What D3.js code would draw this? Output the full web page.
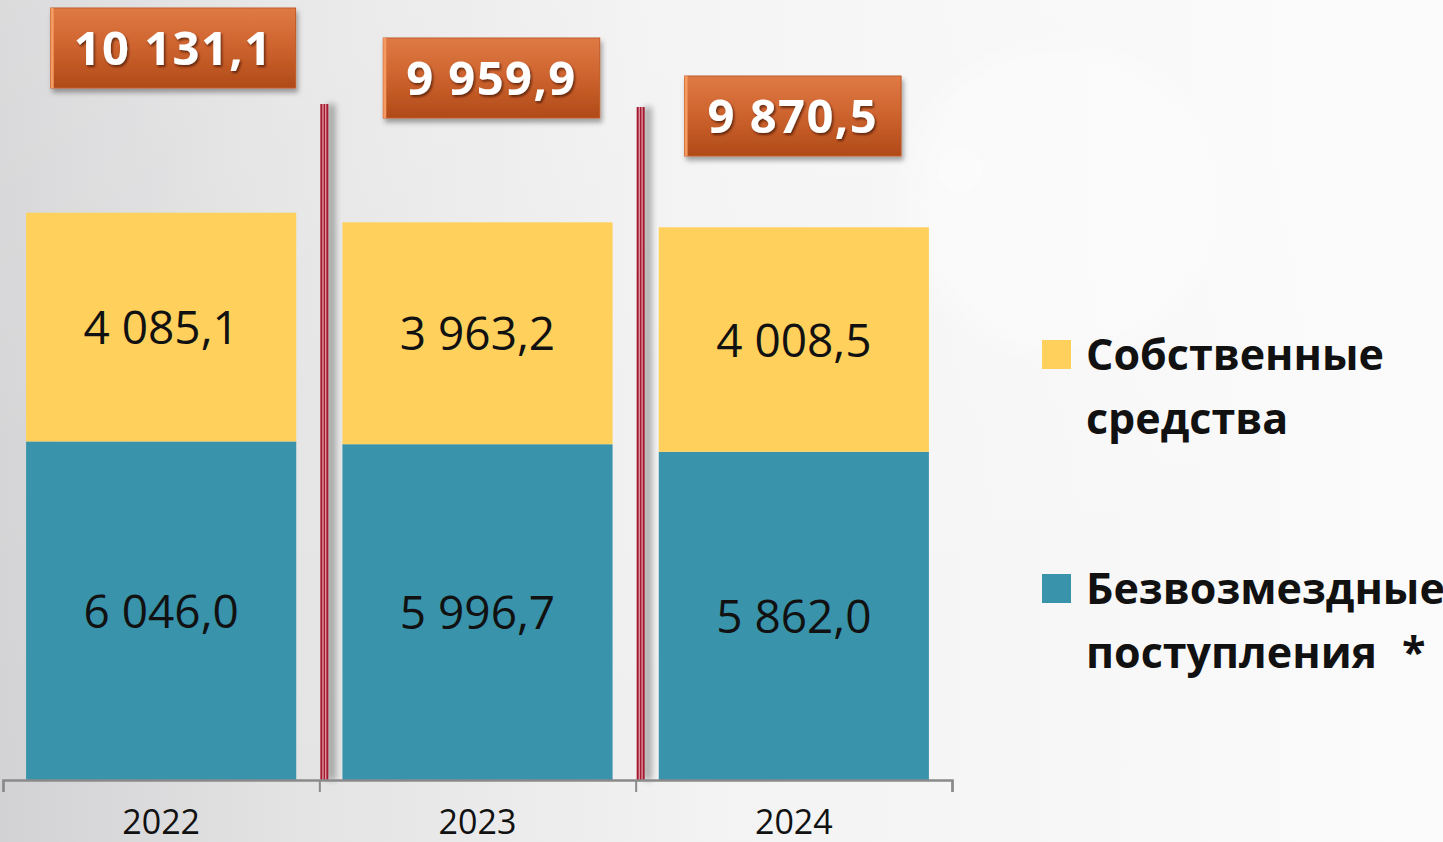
<!DOCTYPE html>
<html>
<head>
<meta charset="utf-8">
<script src="https://cdn.jsdelivr.net/npm/d3@7"></script>
<style>
  html, body { margin: 0; padding: 0; overflow: hidden; background: #fff; }
  svg { display: block; font-family: "Open Sans", sans-serif; }
</style>
</head>
<body>
<svg width="1443" height="842"></svg>
<script>
// данные
const years = ['2022', '2023', '2024'];
const grants = [6046.0, 5996.7, 5862.0];     // безвозмездные поступления
const own = [4085.1, 3963.2, 4008.5];        // собственные средства
const totals = [10131.1, 9959.9, 9870.5];
const totalLabels = ['10 131,1', '9 959,9', '9 870,5'];
const grantLabels = ['6 046,0', '5 996,7', '5 862,0'];
const ownLabels = ['4 085,1', '3 963,2', '4 008,5'];
const legendOwn = ['Собственные', 'средства'];
const legendGrants = ['Безвозмездные', 'поступления'];

// placement of the orange total boxes (offset from bar centre, top)
const boxLayout = [{dx: 12, top: 8}, {dx: 14, top: 38}, {dx: -1, top: 76}];
const sepTops = [104, 107];

const W = 1443, H = 842;
const svg = d3.select('svg');
const defs = svg.append('defs');

// фон
const bg = defs.append('linearGradient').attr('id', 'bg');
bg.append('stop').attr('offset', 0).attr('stop-color', '#d2d2d4');
bg.append('stop').attr('offset', 0.2).attr('stop-color', '#e3e3e4');
bg.append('stop').attr('offset', 0.5).attr('stop-color', '#f3f3f3');
bg.append('stop').attr('offset', 1).attr('stop-color', '#fbfbfb');
svg.append('rect').attr('width', W).attr('height', H).attr('fill', 'url(#bg)');

const vfade = defs.append('linearGradient').attr('id', 'vfade')
  .attr('x1', 0).attr('y1', 0).attr('x2', 0).attr('y2', 1);
vfade.append('stop').attr('offset', 0).attr('stop-color', '#fff').attr('stop-opacity', 0.2);
vfade.append('stop').attr('offset', 0.5).attr('stop-color', '#fff').attr('stop-opacity', 0.08);
vfade.append('stop').attr('offset', 1).attr('stop-color', '#fff').attr('stop-opacity', 0);
svg.append('rect').attr('width', W).attr('height', H).attr('fill', 'url(#vfade)');

// faint circles in the background
const glow = defs.append('radialGradient').attr('id', 'glow');
glow.append('stop').attr('offset', 0.8).attr('stop-color', '#fff').attr('stop-opacity', 0.35);
glow.append('stop').attr('offset', 1).attr('stop-color', '#fff').attr('stop-opacity', 0);
svg.append('circle').attr('cx', 1060).attr('cy', 200).attr('r', 170).attr('fill', 'url(#glow)');
svg.append('circle').attr('cx', 960).attr('cy', 170).attr('r', 22)
  .attr('fill', '#fff').attr('opacity', 0.35);

// фильтры
const shadow = defs.append('filter').attr('id', 'shadow')
  .attr('x', '-10%').attr('y', '-10%').attr('width', '130%').attr('height', '140%');
shadow.append('feDropShadow').attr('dx', 2).attr('dy', 4).attr('stdDeviation', 2.5)
  .attr('flood-color', '#000').attr('flood-opacity', 0.35);
const tshadow = defs.append('filter').attr('id', 'tshadow');
tshadow.append('feDropShadow').attr('dx', 1.5).attr('dy', 2).attr('stdDeviation', 1)
  .attr('flood-color', '#3a1500').attr('flood-opacity', 0.7);
const sshadow = defs.append('filter').attr('id', 'sshadow')
  .attr('x', '-100%').attr('width', '400%');
sshadow.append('feGaussianBlur').attr('stdDeviation', 3);

const boxGrad = defs.append('linearGradient').attr('id', 'boxGrad')
  .attr('x1', 0).attr('y1', 0).attr('x2', 0).attr('y2', 1);
boxGrad.append('stop').attr('offset', 0).attr('stop-color', '#df7a45');
boxGrad.append('stop').attr('offset', 0.45).attr('stop-color', '#cf6530');
boxGrad.append('stop').attr('offset', 1).attr('stop-color', '#b04a18');

// шкалы
const x = d3.scaleBand().domain(years).range([3, 952])
  .paddingInner(0.146).paddingOuter(0.073);
const y = d3.scaleLinear().domain([0, 13930]).range([780, 0]);
const edges = d3.scaleLinear().domain([0, years.length]).range([3, 952]);

const colors = {own: '#ffd15c', grants: '#3893ab'};

const rows = years.map((yr, i) => ({
  year: yr, grants: grants[i], own: own[i], total: totals[i],
  gl: grantLabels[i], ol: ownLabels[i], tl: totalLabels[i], i
}));

// разделители
years.slice(1).forEach((yr, k) => {
  const sx = edges(k + 1) + 5;
  const g = svg.append('g');
  g.append('rect').attr('x', sx + 3).attr('y', sepTops[k]).attr('width', 8)
    .attr('height', 780 - sepTops[k]).attr('fill', '#000').attr('opacity', 0.3)
    .attr('filter', 'url(#sshadow)');
  g.append('rect').attr('x', sx - 4).attr('y', sepTops[k]).attr('width', 8)
    .attr('height', 780 - sepTops[k]).attr('fill', '#a3182f');
  [-1.4, 1.4].forEach(o => g.append('rect').attr('x', sx + o - 0.6).attr('y', sepTops[k])
    .attr('width', 1.2).attr('height', 780 - sepTops[k]).attr('fill', '#e8a6b2'));
});

// столбцы
const bars = svg.append('g');
bars.selectAll('rect.grants').data(rows).join('rect').attr('class', 'grants')
  .attr('x', d => x(d.year)).attr('width', x.bandwidth())
  .attr('y', d => y(d.grants)).attr('height', d => y(0) - y(d.grants))
  .attr('fill', colors.grants);
bars.selectAll('rect.own').data(rows).join('rect').attr('class', 'own')
  .attr('x', d => x(d.year)).attr('width', x.bandwidth())
  .attr('y', d => y(d.grants + d.own)).attr('height', d => y(d.grants) - y(d.grants + d.own))
  .attr('fill', colors.own);

// подписи сегментов
const segLabel = (sel, yc) => sel
  .attr('x', d => x(d.year) + x.bandwidth() / 2)
  .attr('y', d => yc(d) + 17)
  .attr('text-anchor', 'middle')
  .attr('font-size', 46).attr('fill', '#111');
bars.selectAll('text.gl').data(rows).join('text').attr('class', 'gl')
  .call(segLabel, d => (y(0) + y(d.grants)) / 2).text(d => d.gl);
bars.selectAll('text.ol').data(rows).join('text').attr('class', 'ol')
  .call(segLabel, d => (y(d.grants) + y(d.grants + d.own)) / 2).text(d => d.ol);

// ось
const axis = svg.append('g').attr('transform', 'translate(0,780)')
  .call(d3.axisBottom(edges).ticks(years.length).tickFormat('').tickSize(12).tickSizeOuter(12));
axis.select('.domain').attr('stroke', '#8a8a8a').attr('stroke-width', 2.5);
axis.selectAll('.tick line').attr('stroke', '#8a8a8a').attr('stroke-width', 2);

svg.append('g').selectAll('text').data(rows).join('text')
  .attr('x', d => x(d.year) + x.bandwidth() / 2).attr('y', 834)
  .attr('text-anchor', 'middle').attr('font-size', 34).attr('fill', '#111')
  .text(d => d.year);

// итоговые значения в оранжевых плашках
const boxes = svg.append('g').selectAll('g').data(rows).join('g');
boxes.each(function(d) {
  const g = d3.select(this);
  const cx = x(d.year) + x.bandwidth() / 2 + boxLayout[d.i].dx;
  const top = boxLayout[d.i].top;
  const t = g.append('text').attr('font-size', 47).attr('font-weight', 700)
    .attr('letter-spacing', 1.5)
    .attr('text-anchor', 'middle').attr('fill', '#fff').attr('filter', 'url(#tshadow)')
    .attr('x', cx).attr('y', top + 57).text(d.tl);
  const w = t.node().getComputedTextLength() + 46;
  g.insert('rect', 'text').attr('x', cx - w / 2).attr('y', top).attr('width', w).attr('height', 80)
    .attr('fill', 'url(#boxGrad)').attr('stroke', '#c05a28').attr('stroke-width', 1)
    .attr('filter', 'url(#shadow)');
  g.insert('rect', 'text').attr('x', cx - w / 2).attr('y', top).attr('width', 3).attr('height', 80)
    .attr('fill', '#f59a60');
});

// легенда
const legend = svg.append('g').attr('font-weight', 700).attr('font-size', 43).attr('fill', '#111');
const items = [
  {color: colors.own, lines: legendOwn, top: 340},
  {color: colors.grants, lines: legendGrants, top: 574}
];
items.forEach((it, k) => {
  legend.append('rect').attr('x', 1042).attr('y', it.top).attr('width', 29).attr('height', 29)
    .attr('fill', it.color);
  it.lines.forEach((ln, j) => legend.append('text').attr('x', 1086)
    .attr('y', it.top + 30 + j * 64).text(ln));
});
legend.append('text').attr('x', 1402).attr('y', 574 + 94).text('*');
</script>
</body>
</html>
